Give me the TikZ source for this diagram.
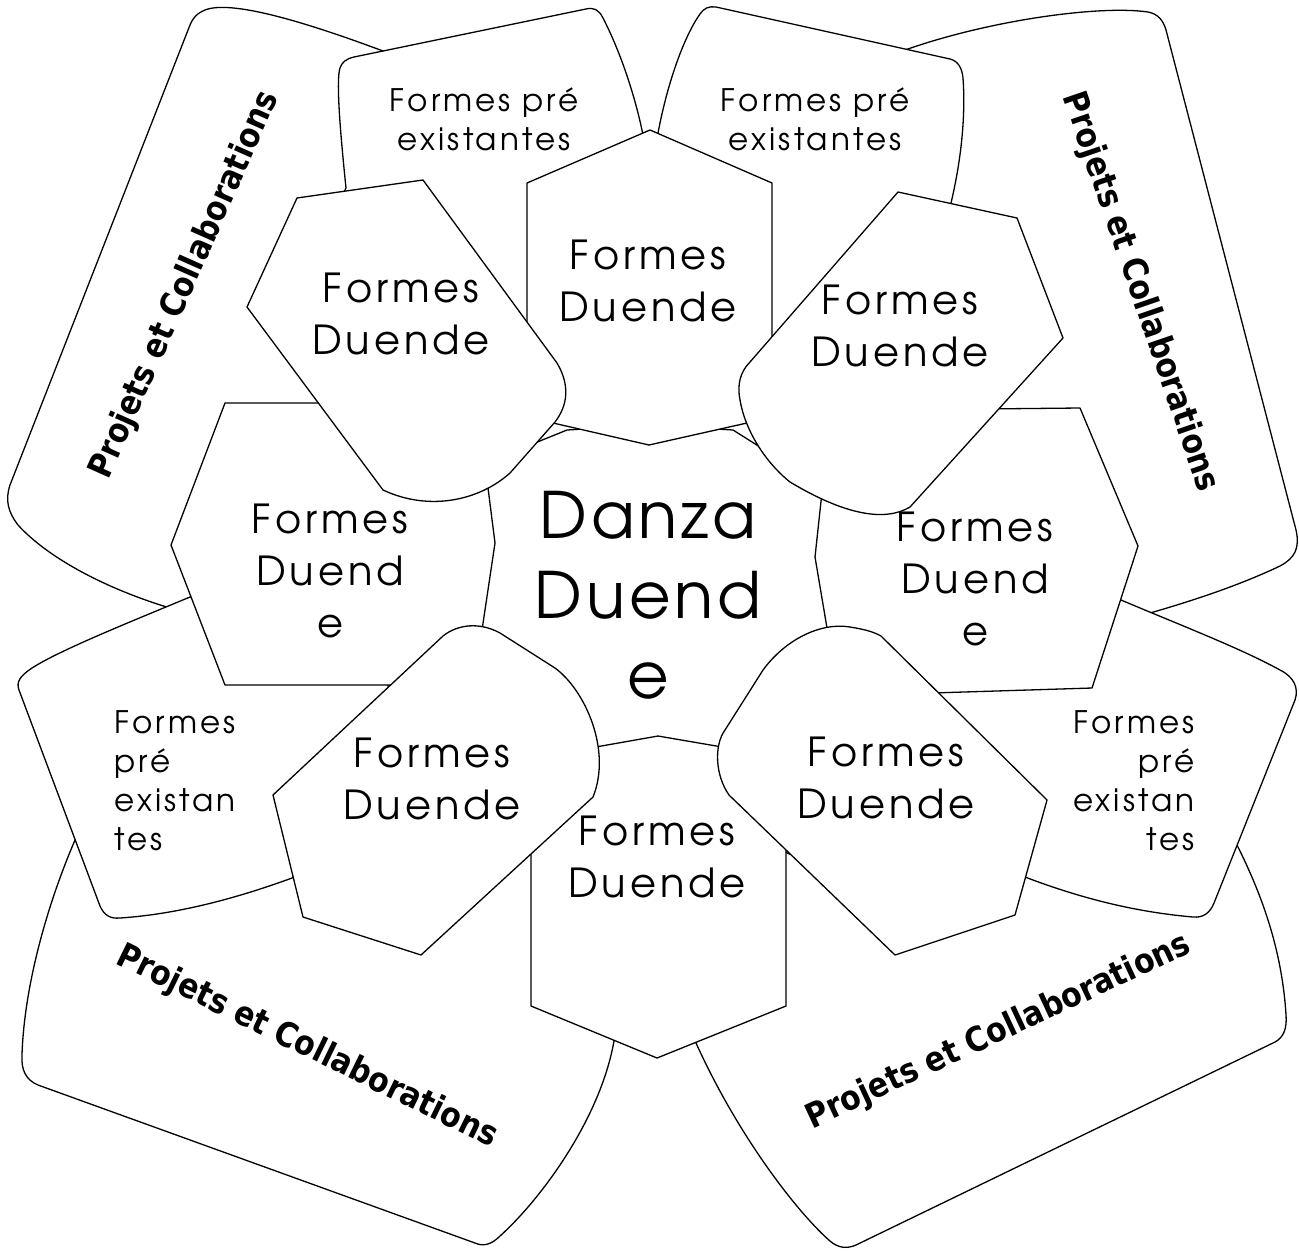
\documentclass[tikz,border=0pt]{standalone}
\usepackage{fontspec}
\usepackage{tikz}
\newfontfamily\gothicfont{texgyreadventor-regular.otf}[LetterSpace=10]
\newfontfamily\danzafont{texgyreadventor-regular.otf}[LetterSpace=6]
\newfontfamily\projfont{DejaVu Sans}[FakeStretch=0.88]

\begin{document}
\begin{tikzpicture}[x=0.5pt,y=-0.5pt,line cap=round,line join=round,
    bloc/.style={draw=black,fill=white,line width=0.65pt},
    projtext/.style={font=\projfont\bfseries\fontsize{17}{20}\selectfont,inner sep=0pt},
    pretext/.style={font=\gothicfont\fontsize{15.5}{19.5}\selectfont,inner sep=0pt},
    duendetext/.style={font=\gothicfont\fontsize{20}{26}\selectfont,align=center,inner sep=0pt},
    danzatext/.style={font=\danzafont\fontsize{32}{40}\selectfont,align=center,inner sep=0pt}]
\useasboundingbox (0,0) rectangle (1299,1253);

\draw[bloc] (420,80) -- (383,51) .. controls (300,20) and (230,0) .. (205,10) .. controls (196,14) and (193,18) .. (190,25) -- (10,485) .. controls (5,500) and (8,512) .. (18,525) .. controls (50,560) and (110,590) .. (170,608) -- (200,630) -- (300,560) -- (400,300) -- cycle;
\draw[bloc] (880,80) -- (905,50) .. controls (990,20) and (1100,5) .. (1148,12) .. controls (1158,14) and (1163,20) .. (1166,30) -- (1296,530) .. controls (1300,548) and (1295,558) .. (1280,566) .. controls (1240,585) and (1195,600) .. (1150,613) -- (1110,610) -- (1000,560) -- (900,300) -- cycle;
\draw[bloc] (540,860) -- (600,1000) -- (614,1041) .. controls (600,1120) and (540,1200) .. (500,1236) .. controls (492,1244) and (484,1247) .. (475,1243) -- (38,1085) .. controls (26,1080) and (21,1070) .. (22,1055) .. controls (24,990) and (45,910) .. (75,840) -- (95,830) -- (280,870) -- (350,880) -- (525,845) -- cycle;
\draw[bloc] (780,850) -- (720,1000) -- (696,1043) .. controls (740,1140) and (800,1215) .. (830,1241) .. controls (838,1248) and (847,1249) .. (856,1245) -- (1275,1042) .. controls (1284,1037) and (1287,1028) .. (1286,1015) .. controls (1282,950) and (1262,895) .. (1237,845) -- (1200,850) -- (1000,850) -- (900,900) -- cycle;

\draw[bloc] (346,188) .. controls (340,130) and (336,80) .. (340,68) .. controls (342,62) and (346,59) .. (354,57) -- (586,9) .. controls (594,7) and (599,10) .. (603,18) .. controls (622,55) and (636,100) .. (643,135) -- (560,200) -- (540,340) -- (380,250) -- (340,200) -- cycle;
\draw[bloc] (658,133) .. controls (668,80) and (685,35) .. (700,14) .. controls (704,8) and (709,6) .. (716,7) -- (950,59) .. controls (958,61) and (962,68) .. (963,78) .. controls (966,120) and (960,165) .. (951,203) -- (900,240) -- (768,350) -- (700,200) -- cycle;
\draw[bloc] (190,597) .. controls (130,622) and (60,650) .. (32,668) .. controls (20,676) and (16,682) .. (19,690) -- (100,906) .. controls (104,915) and (110,919) .. (120,918) .. controls (180,914) and (240,897) .. (292,878) -- (320,850) -- (395,700) -- (380,670) -- (200,600) -- cycle;
\draw[bloc] (1121,600) .. controls (1180,625) and (1240,648) .. (1280,670) .. controls (1294,677) and (1299,688) .. (1295,700) -- (1214,903) .. controls (1210,913) and (1203,918) .. (1193,917) .. controls (1135,912) and (1080,898) .. (1025,877) -- (1000,850) -- (925,690) -- (1000,650) -- cycle;

\draw[bloc] (171,545) -- (225,403) -- (440,403) -- (525,545) -- (500,640) -- (420,685) -- (225,685) -- cycle;
\draw[bloc] (790,470) -- (880,410) -- (1080,408) -- (1138,546) -- (1092,688) -- (900,694) -- (790,640) -- cycle;
\draw[bloc] (531,815) -- (598,742) -- (658,730) -- (718,742) -- (786,815) -- (786,1006) -- (657,1058) -- (531,1006) -- cycle;
\draw[bloc] (530,445) -- (567,430) -- (650,425) -- (733,430) -- (760,447) -- (770,447) -- (822,492) -- (815,557) -- (827,628) -- (835,650) -- (728,748) -- (658,736) -- (590,748) -- (500,650) -- (482,630) -- (495,543) -- (487,480) -- cycle;
\draw[bloc] (527,183) -- (650,130) -- (772,183) -- (772,400) -- (747,423) -- (649,445) -- (553,423) -- (527,400) -- cycle;
\draw[bloc] (247,307) -- (297,198) -- (423,180) -- (557,363) .. controls (570,385) and (568,405) .. (555,422) -- (510,473) .. controls (480,500) and (430,512) .. (383,490) -- cycle;
\draw[bloc] (898,192) -- (1017,218) -- (1063,338) -- (910,507) .. controls (885,522) and (845,515) .. (790,482) .. controls (765,462) and (745,430) .. (740,400) .. controls (737,385) and (740,372) .. (750,362) -- cycle;
\draw[bloc] (273,795) -- (443,636) .. controls (458,624) and (480,622) .. (500,633) -- (555,668) .. controls (585,690) and (612,750) .. (593,797) -- (421,955) -- (303,917) -- cycle;
\draw[bloc] (881,636) -- (1047,800) -- (1015,915) -- (895,955) -- (729,795) .. controls (715,775) and (714,745) .. (725,730) -- (763,670) .. controls (785,640) and (820,622) .. (850,627) .. controls (862,629) and (872,631) .. (881,636) -- cycle;

\node[projtext,rotate=66] (projTL) at (185,285) {Projets et Collaborations};
\node[projtext,rotate=-71] (projTR) at (1140,292) {Projets et Collaborations};
\node[projtext,rotate=-26] (projBL) at (307,1047) {Projets et Collaborations};
\node[projtext,rotate=25] (projBR) at (999,1032) {Projets et Collaborations};

\node[pretext,align=center] (preTL) at (484,119) {Formes pré\\existantes};
\node[pretext,align=center] (preTR) at (815,119) {Formes pré\\existantes};
\node[pretext,align=left,anchor=west] (preBL) at (114,781) {Formes\\pré\\existan\\tes};
\node[pretext,align=right,anchor=east] (preBR) at (1195,781) {Formes\\pré\\existan\\tes};

\node[duendetext] (duendeT) at (648,281) {Formes\\Duende};
\node[duendetext] (duendeTL) at (401,314) {Formes\\Duende};
\node[duendetext] (duendeTR) at (900,326) {Formes\\Duende};
\node[duendetext] (duendeL) at (330,571) {Formes\\Duend\\e};
\node[duendetext] (duendeR) at (975,579) {Formes\\Duend\\e};
\node[duendetext] (duendeBL) at (432,779) {Formes\\Duende};
\node[duendetext] (duendeBR) at (886,778) {Formes\\Duende};
\node[duendetext] (duendeB) at (657,857) {Formes\\Duende};
\node[danzatext] (danza) at (648,595) {Danza\\Duend\\e};
\end{tikzpicture}
\end{document}
